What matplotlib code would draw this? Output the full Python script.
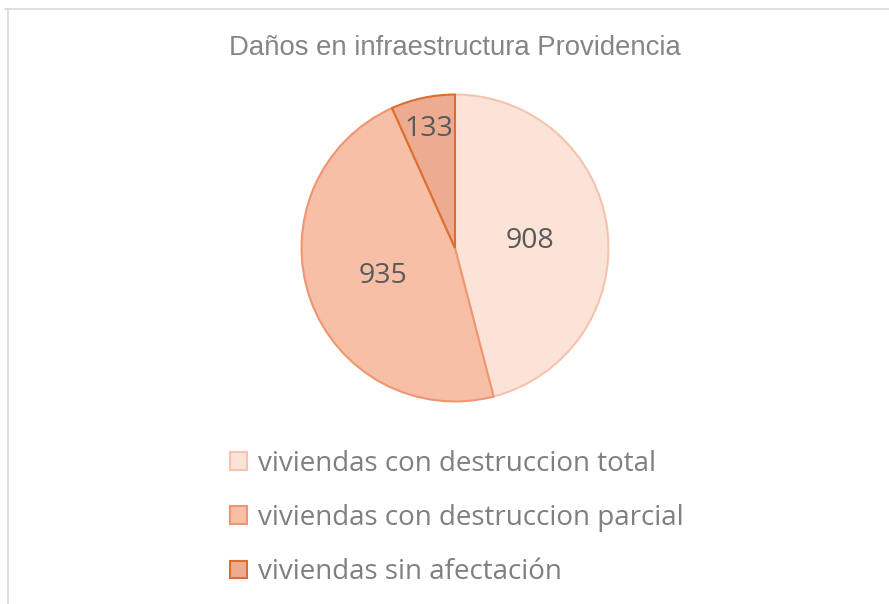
import numpy as np
import matplotlib.pyplot as plt
from matplotlib.patches import Patch
from matplotlib.lines import Line2D

# data
categories = ['viviendas con destruccion total',
              'viviendas con destruccion parcial',
              'viviendas sin afectación']
values = [908, 935, 133]
title = 'Daños en infraestructura Providencia'

# styling
fills = ['#FBE3D8', '#F7BFA6', '#EDAC92']
edges = ['#F5C3AE', '#EF9670', '#DC6E2F']
label_dist = [0.49, 0.50, 0.81]
label_color = '#595959'
text_color = '#7F7F7F'

plt.rcParams['font.family'] = ['Open Sans', 'DejaVu Sans']

fig = plt.figure(figsize=(8.89, 6.04), dpi=100)

# chart frame (only top and left show)
fig.add_artist(Line2D([5 / 889, 1], [1 - 9 / 604] * 2, color='#D9D9D9', lw=1.2))
fig.add_artist(Line2D([8 / 889] * 2, [0, 1 - 9 / 604], color='#D9D9D9', lw=1.2))

ax = fig.add_axes([300 / 889, (604 - 248 - 155) / 604, 310 / 889, 310 / 604])
wedges, _ = ax.pie(values, startangle=90, counterclock=False, radius=1,
                   colors=fills,
                   wedgeprops=dict(linewidth=1.5))
for w, ec in zip(wedges, edges):
    w.set_edgecolor(ec)
ax.set_xlim(-1.01, 1.01)
ax.set_ylim(-1.01, 1.01)
ax.set_aspect('equal')
ax.axis('off')

# data labels
for w, v, d in zip(wedges, values, label_dist):
    ang = np.deg2rad((w.theta1 + w.theta2) / 2)
    ax.text(d * np.cos(ang), d * np.sin(ang) - 0.015, str(v), ha='center', va='center',
            fontsize=20.5, color=label_color)

fig.text(455 / 889, 1 - 48 / 604, title, ha='center', va='center',
         fontsize=19.8, color='#858585', family='Liberation Sans')

handles = [Patch(facecolor=f, edgecolor=e, linewidth=1.5) for f, e in zip(fills, edges)]
fig.legend(handles, categories, loc='center', bbox_to_anchor=(457 / 889, 1 - 518 / 604),
           frameon=False, fontsize=20, labelcolor=text_color,
           handlelength=0.6, handleheight=0.6, handletextpad=0.4,
           labelspacing=0.94, borderpad=0)

fig.savefig('out.png', dpi=100)
